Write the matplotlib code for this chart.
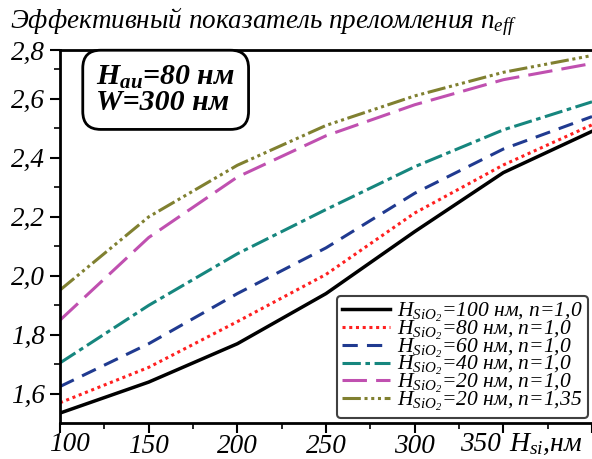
import numpy as np
import matplotlib.pyplot as plt
from matplotlib.ticker import MultipleLocator, FixedLocator, FuncFormatter

plt.rcParams['font.family'] = ['Liberation Serif', 'DejaVu Serif']
plt.rcParams['font.style'] = 'italic'
plt.rcParams['mathtext.fontset'] = 'custom'
plt.rcParams['mathtext.rm'] = 'Liberation Serif:italic'
plt.rcParams['mathtext.it'] = 'Liberation Serif:italic'
plt.rcParams['mathtext.bf'] = 'Liberation Serif:italic:bold'

# толщина кремния, нм
h_si = [100, 150, 200, 250, 300, 350, 400]

n_100 = [1.535, 1.64, 1.77, 1.94, 2.15, 2.35, 2.49]
n_80 = [1.57, 1.69, 1.845, 2.005, 2.213, 2.376, 2.512]
n_60 = [1.625, 1.77, 1.94, 2.095, 2.28, 2.43, 2.54]
n_40 = [1.705, 1.90, 2.075, 2.225, 2.37, 2.495, 2.59]
n_20 = [1.85, 2.13, 2.335, 2.475, 2.58, 2.665, 2.72]
n_20_135 = [1.952, 2.20, 2.375, 2.51, 2.61, 2.69, 2.747]

y_ticks = [1.6, 1.8, 2.0, 2.2, 2.4, 2.6, 2.764]

labels = [r'$H_{SiO_2}$=100 нм, n=1,0',
          r'$H_{SiO_2}$=80 нм, n=1,0',
          r'$H_{SiO_2}$=60 нм, n=1,0',
          r'$H_{SiO_2}$=40 нм, n=1,0',
          r'$H_{SiO_2}$=20 нм, n=1,0',
          r'$H_{SiO_2}$=20 нм, n=1,35']

fig = plt.figure(figsize=(5.92, 4.59), dpi=100)
ax = fig.add_axes([0.1014, 0.0795, 0.8986, 0.8105])

ax.plot(h_si, n_100, color='black', lw=2.5, ls='-', label=labels[0])
ax.plot(h_si, n_80, color='#ff2020', lw=2.2, ls=(0, (1, 1.2)), label=labels[1])
ax.plot(h_si, n_60, color='#203a90', lw=2.2, ls=(0, (5, 3)), label=labels[2])
ax.plot(h_si, n_40, color='#16867e', lw=2.2, ls=(0, (6, 1.5, 1.5, 1.5)), label=labels[3])
ax.plot(h_si, n_20, color='#c050b0', lw=2.2, ls=(0, (8, 3)), label=labels[4])
ax.plot(h_si, n_20_135, color='#808030', lw=2.2,
        ls=(0, (6, 1.2, 1, 1.2, 1, 1.2, 1, 1.2)), label=labels[5])

ax.set_xlim(100, 400)
ax.set_ylim(1.503, 2.764)
ax.xaxis.set_major_locator(MultipleLocator(50))
ax.xaxis.set_minor_locator(MultipleLocator(25))
ax.yaxis.set_major_locator(FixedLocator(y_ticks))
ax.yaxis.set_minor_locator(FixedLocator([1.5, 1.7, 1.9, 2.1, 2.3, 2.5, 2.7]))
# 100 и 350 подписаны отдельно (сдвинуты как в оригинале)
ax.xaxis.set_major_formatter(FuncFormatter(
    lambda v, p: '' if (v > 340 or v < 110) else '%d' % v))
ax.yaxis.set_major_formatter(FuncFormatter(lambda v, p: ('%.1f' % v).replace('.', ',')))
ax.tick_params(which='major', direction='out', length=7, width=1.5, labelsize=19.5)
ax.tick_params(which='minor', direction='out', length=4, width=1.2)
ax.tick_params(axis='x', pad=1.5)
for s in ['left', 'bottom', 'top']:
    ax.spines[s].set_linewidth(2)
ax.spines['right'].set_visible(False)

xtr = ax.get_xaxis_transform()
ax.annotate('100', xy=(100, 0), xycoords=xtr, xytext=(7, -6.5),
            textcoords='offset points', fontsize=19.5, ha='center', va='top')
ax.annotate('350', xy=(350, 0), xycoords=xtr, xytext=(-1.5, -6.5),
            textcoords='offset points', fontsize=19.5, ha='right', va='top')
ax.annotate('$H_{si}$,нм', xy=(350, 0), xycoords=xtr, xytext=(4, -6.5),
            textcoords='offset points', fontsize=20, ha='left', va='top')

fig.text(0.017, 0.952, 'Эффективный показатель преломления $n_{eff}$',
         fontsize=19.5, va='center', ha='left')

ax.text(0.068, 0.894, r'$\mathbf{H_{au}}$=80 нм' + '\n' + 'W=300 нм',
        transform=ax.transAxes, fontsize=21.5, fontweight='bold', va='center',
        ha='left', linespacing=0.9,
        bbox=dict(boxstyle='round,pad=0.45,rounding_size=0.6', fc='white',
                  ec='black', lw=2))

leg = ax.legend(loc='lower right', bbox_to_anchor=(0.9925, 0.012), fontsize=15.5,
                handlelength=2.2, labelspacing=-0.25, borderpad=0.25,
                handletextpad=0.35, borderaxespad=0, fancybox=True, framealpha=1)
leg.get_frame().set_edgecolor('#404040')
leg.get_frame().set_linewidth(1.5)

plt.savefig('out.png', dpi=100)
